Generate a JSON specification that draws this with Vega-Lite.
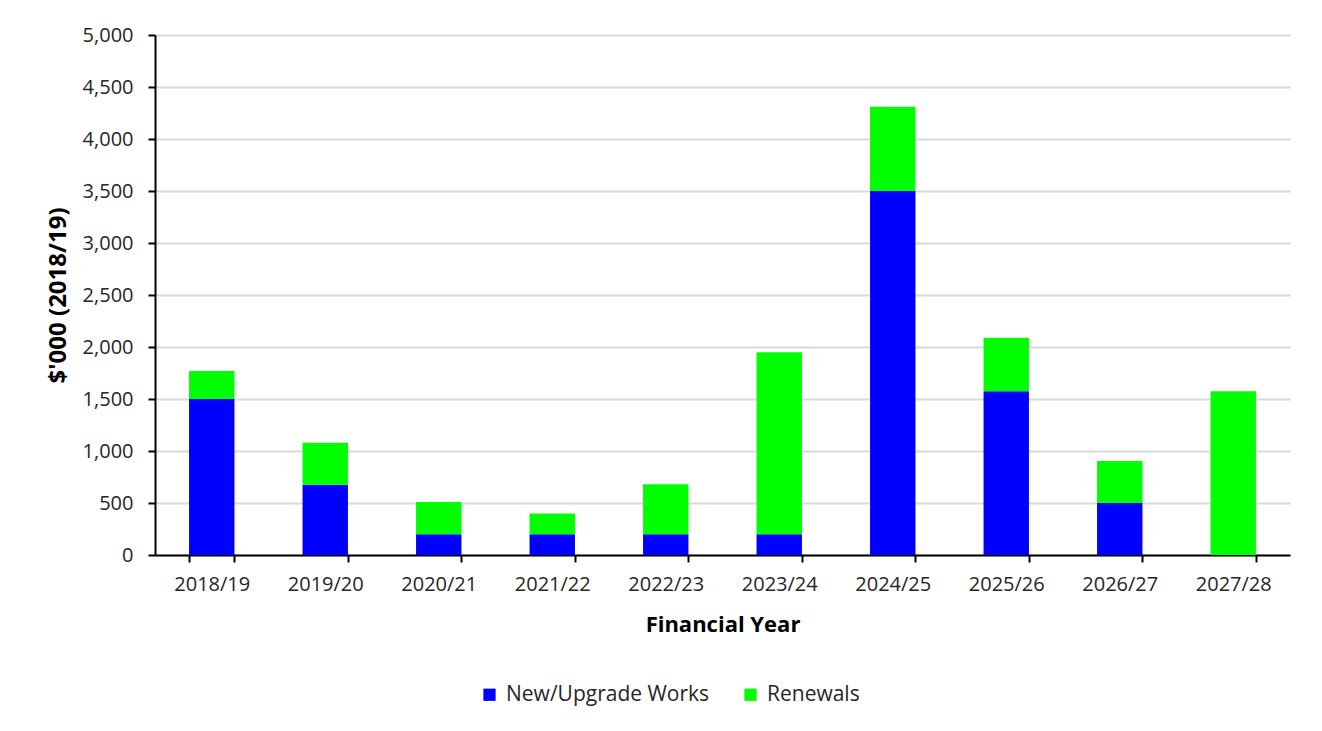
{
  "$schema": "https://vega.github.io/schema/vega-lite/v6.json",
  "width": 1135,
  "height": 520,
  "autosize": {"type": "none"},
  "padding": {"left": 155, "top": 35, "right": 32, "bottom": 176},
  "background": "white",
  "config": {
    "view": {"stroke": null},
    "font": "Open Sans",
    "axis": {"labelFont": "Open Sans", "titleFont": "Open Sans", "labelColor": "#262626", "titleColor": "#000000"},
    "legend": {"labelFont": "Open Sans"}
  },
  "data": {
    "values": [
      {"year": "2018/19", "type": "New/Upgrade Works", "value": 1500, "ord": 1},
      {"year": "2018/19", "type": "Renewals", "value": 270, "ord": 2},
      {"year": "2019/20", "type": "New/Upgrade Works", "value": 675, "ord": 1},
      {"year": "2019/20", "type": "Renewals", "value": 405, "ord": 2},
      {"year": "2020/21", "type": "New/Upgrade Works", "value": 200, "ord": 1},
      {"year": "2020/21", "type": "Renewals", "value": 310, "ord": 2},
      {"year": "2021/22", "type": "New/Upgrade Works", "value": 200, "ord": 1},
      {"year": "2021/22", "type": "Renewals", "value": 200, "ord": 2},
      {"year": "2022/23", "type": "New/Upgrade Works", "value": 200, "ord": 1},
      {"year": "2022/23", "type": "Renewals", "value": 480, "ord": 2},
      {"year": "2023/24", "type": "New/Upgrade Works", "value": 200, "ord": 1},
      {"year": "2023/24", "type": "Renewals", "value": 1750, "ord": 2},
      {"year": "2024/25", "type": "New/Upgrade Works", "value": 3500, "ord": 1},
      {"year": "2024/25", "type": "Renewals", "value": 810, "ord": 2},
      {"year": "2025/26", "type": "New/Upgrade Works", "value": 1575, "ord": 1},
      {"year": "2025/26", "type": "Renewals", "value": 515, "ord": 2},
      {"year": "2026/27", "type": "New/Upgrade Works", "value": 500, "ord": 1},
      {"year": "2026/27", "type": "Renewals", "value": 405, "ord": 2},
      {"year": "2027/28", "type": "New/Upgrade Works", "value": 0, "ord": 1},
      {"year": "2027/28", "type": "Renewals", "value": 1575, "ord": 2}
    ]
  },
  "mark": {"type": "bar"},
  "encoding": {
    "x": {
      "field": "year",
      "type": "nominal",
      "sort": null,
      "scale": {"paddingInner": 0.6, "paddingOuter": 0.3},
      "axis": {
        "title": "Financial Year",
        "labelAngle": 0,
        "labelFontSize": 20,
        "titleFontSize": 22,
        "titleFontWeight": "bold",
        "domainColor": "#000000",
        "domainWidth": 2,
        "tickColor": "#000000",
        "tickWidth": 2,
        "tickSize": 7,
        "tickBand": "extent",
        "labelPadding": 12,
        "titlePadding": 20
      }
    },
    "y": {
      "field": "value",
      "type": "quantitative",
      "stack": "zero",
      "scale": {"domain": [0, 5000], "nice": false},
      "axis": {
        "title": "$'000 (2018/19)",
        "format": ",d",
        "values": [0, 500, 1000, 1500, 2000, 2500, 3000, 3500, 4000, 4500, 5000],
        "labelFontSize": 20,
        "titleFontSize": 24,
        "titleFontWeight": "bold",
        "domainColor": "#000000",
        "domainWidth": 2,
        "tickColor": "#000000",
        "tickWidth": 2,
        "tickSize": 7,
        "labelPadding": 15,
        "titlePadding": 12,
        "gridColor": "#d9d9d9",
        "gridWidth": 2
      }
    },
    "color": {
      "field": "type",
      "type": "nominal",
      "scale": {"domain": ["New/Upgrade Works", "Renewals"], "range": ["#0000ff", "#00ff00"]},
      "legend": {
        "title": null,
        "orient": "none",
        "direction": "horizontal",
        "legendX": 324,
        "legendY": 649,
        "symbolType": "square",
        "symbolSize": 150,
        "symbolStrokeWidth": 0,
        "labelFontSize": 21,
        "labelLimit": 400,
        "labelColor": "#262626",
        "columnPadding": 30,
        "labelOffset": 6
      }
    },
    "order": {"field": "ord", "type": "quantitative"}
  }
}
